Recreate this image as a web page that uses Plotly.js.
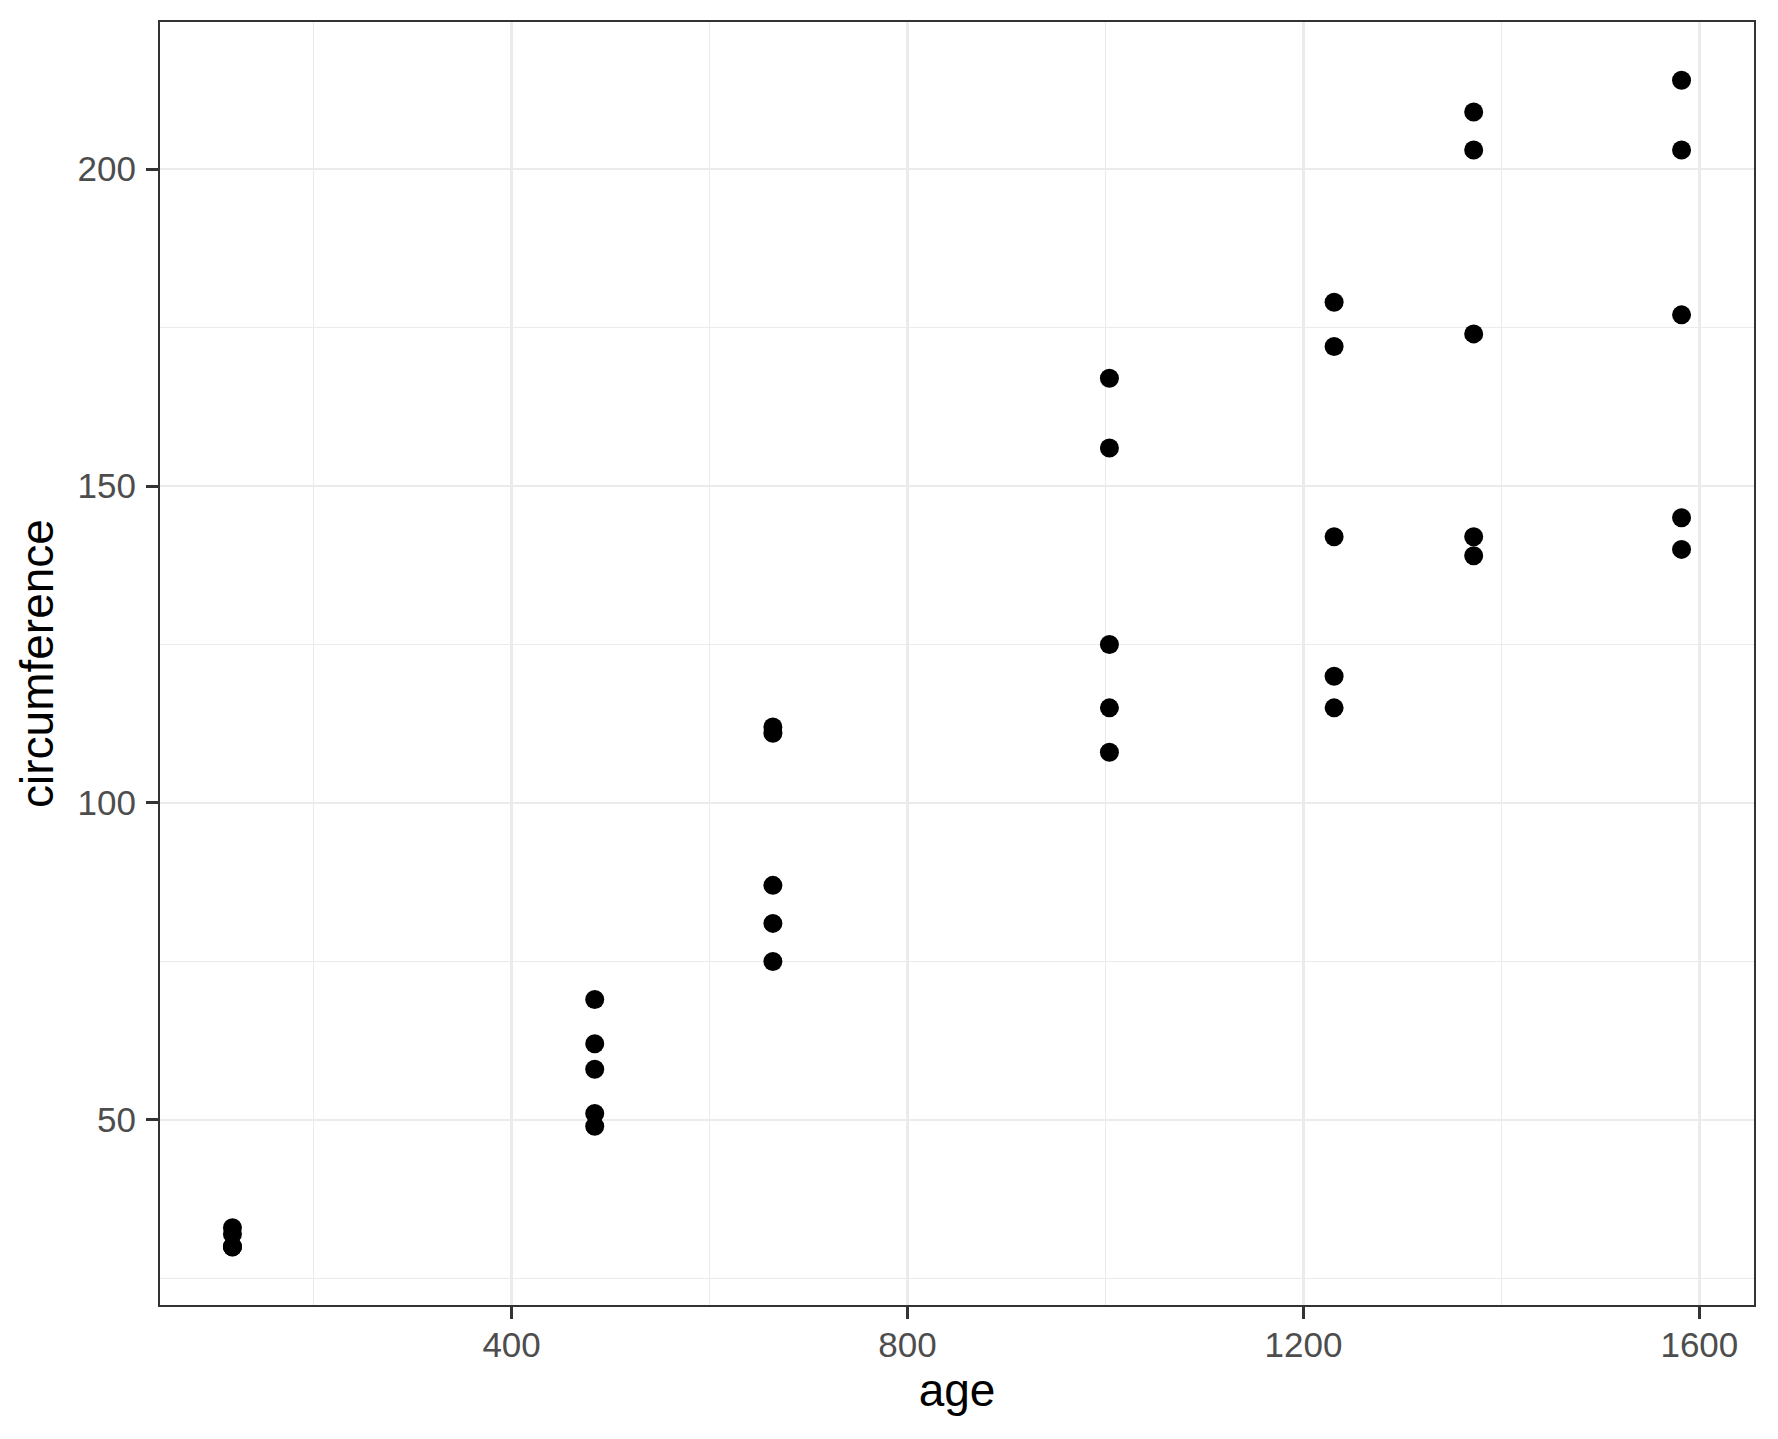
<!DOCTYPE html>
<html>
<head>
<meta charset="utf-8">
<script src="https://cdn.plot.ly/plotly-3.0.1.min.js"></script>
<style>html,body{margin:0;padding:0;background:#fff;}#chart{width:1778px;height:1439px;}</style>
</head>
<body>
<div id="chart"></div>
<script>
// Orange tree growth data
const ages = [118, 484, 664, 1004, 1231, 1372, 1582];
const tree1 = [30, 58, 87, 115, 120, 142, 145];
const tree2 = [33, 69, 111, 156, 172, 203, 203];
const tree3 = [30, 51, 75, 108, 115, 139, 140];
const tree4 = [32, 62, 112, 167, 179, 209, 214];
const tree5 = [30, 49, 81, 125, 142, 174, 177];
const xTicks = [400, 800, 1200, 1600];
const yTicks = [50, 100, 150, 200];

const trees = [tree1, tree2, tree3, tree4, tree5];
const xs = [], ys = [];
trees.forEach(t => { t.forEach((v, i) => { xs.push(ages[i]); ys.push(v); }); });

const FONT = 'Liberation Sans, Arial, sans-serif';
const trace = {
  type: 'scatter', mode: 'markers', x: xs, y: ys,
  marker: {color: '#000000', size: 19, line: {width: 0}},
  hoverinfo: 'x+y', showlegend: false
};

const axisCommon = {
  showline: true, mirror: true, linecolor: '#333333', linewidth: 2,
  ticks: 'outside', ticklen: 12, tickwidth: 3, tickcolor: '#333333',
  showgrid: true, gridcolor: '#EBEBEB', gridwidth: 2.8,
  zeroline: false,
  tickfont: {family: FONT, size: 35, color: '#4D4D4D'}
};

const layout = {
  width: 1778, height: 1439, autosize: false,
  margin: {l: 160, r: 24, t: 22, b: 134, pad: 0},
  paper_bgcolor: '#FFFFFF', plot_bgcolor: '#FFFFFF',
  showlegend: false,
  xaxis: Object.assign({}, axisCommon, {
    range: [44.8, 1655.2],
    tickmode: 'array', tickvals: xTicks, ticktext: xTicks.map(String),
    ticklabelstandoff: -4,
    minor: {tickmode: 'array', tickvals: [200, 600, 1000, 1400], showgrid: true, gridcolor: '#EBEBEB', gridwidth: 1.4, ticks: ''},
    title: {text: 'age', font: {family: FONT, size: 46, color: '#000000'}, standoff: 7}
  }),
  yaxis: Object.assign({}, axisCommon, {
    range: [20.8, 223.2],
    tickmode: 'array', tickvals: yTicks, ticktext: yTicks.map(String),
    ticklabelstandoff: 3,
    minor: {tickmode: 'array', tickvals: [25, 75, 125, 175], showgrid: true, gridcolor: '#EBEBEB', gridwidth: 1.4, ticks: ''},
    title: {text: 'circumference', font: {family: FONT, size: 46, color: '#000000'}, standoff: 9}
  })
};

Plotly.newPlot('chart', [trace], layout, {displayModeBar: false, staticPlot: true});
</script>
</body>
</html>
